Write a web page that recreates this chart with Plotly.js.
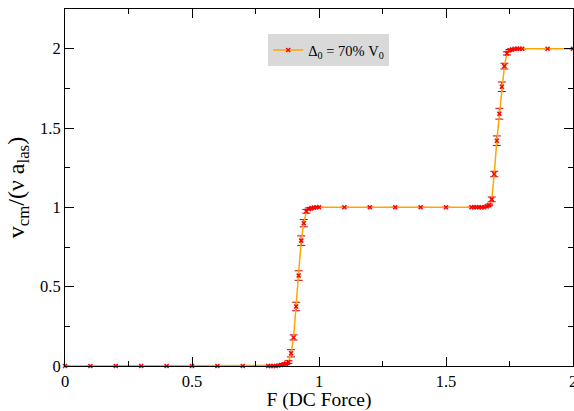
<!DOCTYPE html>
<html>
<head>
<meta charset="utf-8">
<script src="https://cdn.plot.ly/plotly-3.0.1.min.js"></script>
<style>html,body{margin:0;padding:0;background:#fff}#chart{width:574px;height:411px}</style>
</head>
<body>
<div id="chart"></div>
<script>
const forceF = [0, 0.1, 0.2, 0.3, 0.4, 0.5, 0.6, 0.7, 0.8, 0.81, 0.82, 0.83, 0.84, 0.85, 0.86, 0.87, 0.88,
  0.89, 0.90, 0.91, 0.92, 0.93, 0.94, 0.95, 0.96, 0.97, 0.98, 0.99, 1.0,
  1.1, 1.2, 1.3, 1.4, 1.5, 1.6, 1.61, 1.62, 1.63, 1.64, 1.65, 1.66, 1.67,
  1.68, 1.69, 1.70, 1.71, 1.72, 1.73, 1.74, 1.75, 1.76, 1.77, 1.78, 1.79, 1.80, 1.9, 2.0];
const velocity = [0, 0, 0, 0, 0, 0, 0, 0, 0, 0, 0, 0, 0.003, 0.006, 0.01, 0.015, 0.025,
  0.08, 0.18, 0.375, 0.57, 0.79, 0.90, 0.975, 0.99, 0.995, 0.998, 1.0, 1.0,
  1.0, 1.0, 1.0, 1.0, 1.0, 1.0, 1.0, 1.0, 1.0, 1.0, 1.0, 1.005, 1.015,
  1.05, 1.21, 1.42, 1.59, 1.76, 1.89, 1.97, 1.99, 1.995, 2.0, 2.0, 2.0, 2.0, 2.0, 2.0];
const errors = [0, 0, 0, 0, 0, 0, 0, 0, 0, 0, 0, 0, 0.003, 0.004, 0.005, 0.006, 0.008,
  0.023, 0.016, 0.027, 0.03, 0.03, 0.023, 0.012, 0.006, 0.004, 0.003, 0.002, 0.001,
  0, 0, 0, 0, 0, 0, 0, 0, 0, 0, 0, 0.003, 0.005,
  0.015, 0.017, 0.03, 0.034, 0.03, 0.018, 0.01, 0.005, 0.003, 0.002, 0, 0, 0, 0, 0];
const legendLabel = 'Δ<sub>0</sub> = 70% V<sub>0</sub>';
const xTickVals = [0, 0.5, 1, 1.5, 2];
const xTickText = ['0', '0.5', '1', '1.5', '2'];
const yTickVals = [0, 0.5, 1, 1.5, 2];
const yTickText = ['0', '0.5', '1', '1.5', '2'];

const serif = "'Liberation Serif', 'Times New Roman', serif";

const trace = {
  x: forceF, y: velocity,
  type: 'scatter', mode: 'lines+markers',
  name: legendLabel,
  line: {color: '#ffa500', width: 1.5},
  marker: {symbol: 'x-thin', size: 4, color: 'red', line: {color: 'red', width: 1.5}},
  error_y: {type: 'data', array: errors, visible: true, color: '#cc0000', thickness: 1, width: 4},
  cliponaxis: false
};

const axisCommon = {
  showgrid: false, zeroline: false, showline: true, linecolor: 'black', linewidth: 1,
  mirror: 'ticks', ticks: 'inside', ticklen: 9, tickwidth: 1, tickcolor: 'black',
  ticklabeloverflow: 'allow',
  tickfont: {family: serif, size: 16.5, color: 'black'}
};

const layout = {
  width: 574, height: 411,
  margin: {l: 65, r: 1, t: 9, b: 45},
  paper_bgcolor: 'white', plot_bgcolor: 'white',
  showlegend: true,
  legend: {x: 0.40, y: 0.93, xanchor: 'left', yanchor: 'top', bgcolor: '#d9d9d9',
    font: {family: serif, size: 14.5, color: 'black'}, borderwidth: 0},
  xaxis: Object.assign({}, axisCommon, {
    range: [0, 2], tickvals: xTickVals, ticktext: xTickText,
    minor: {dtick: 0.25, ticklen: 5, tickcolor: 'black', ticks: 'inside'},
    title: {text: 'F (DC Force)', font: {family: serif, size: 19.5, color: 'black'}, standoff: 5}
  }),
  yaxis: Object.assign({}, axisCommon, {
    range: [0, 2.25], tickvals: yTickVals, ticktext: yTickText,
    minor: {dtick: 0.25, ticklen: 5, tickcolor: 'black', ticks: 'inside'},
    title: {text: 'v<sub>cm</sub>/(ν a<sub>las</sub>)', font: {family: serif, size: 24, color: 'black'}, standoff: 8}
  })
};

Plotly.newPlot('chart', [trace], layout, {displayModeBar: false, staticPlot: true});
</script>
</body>
</html>
